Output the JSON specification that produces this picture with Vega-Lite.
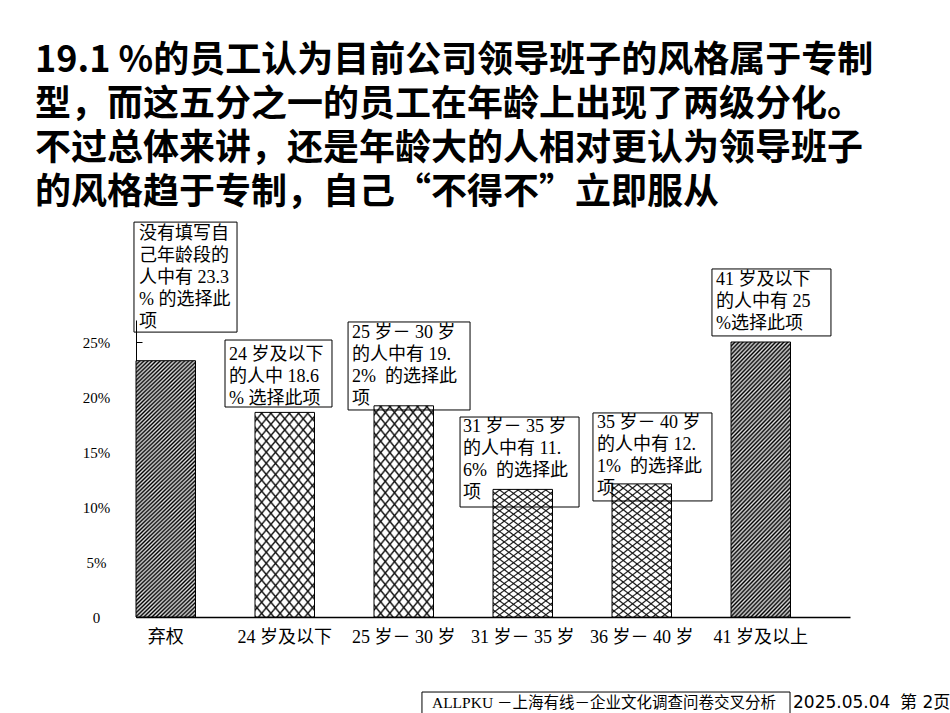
{
  "$schema": "https://vega.github.io/schema/vega-lite/v6.json",
  "width": 714,
  "height": 297,
  "autosize": "none",
  "padding": {"left": 136, "top": 320, "right": 100, "bottom": 96},
  "background": "#ffffff",
  "config": {"view": {"stroke": null}},
  "title": {
    "text": [
      "19.1 %的员工认为目前公司领导班子的风格属于专制",
      "型，而这五分之一的员工在年龄上出现了两级分化。",
      "不过总体来讲，还是年龄大的人相对更认为领导班子",
      "的风格趋于专制，自己“不得不”立即服从"
    ],
    "anchor": "start",
    "frame": "group",
    "font": "Noto Sans CJK SC",
    "fontSize": 36,
    "fontWeight": "bold",
    "lineHeight": 44,
    "color": "#000000",
    "dx": -101,
    "offset": 10
  },
  "datasets": {
    "bars": [
      {"group": "弃权", "pct": 23.3, "pattern": "hatch"},
      {"group": "24 岁及以下", "pct": 18.6, "pattern": "cross"},
      {"group": "25 岁－ 30 岁", "pct": 19.2, "pattern": "cross"},
      {"group": "31 岁－ 35 岁", "pct": 11.6, "pattern": "cross"},
      {"group": "36 岁－ 40 岁", "pct": 12.1, "pattern": "cross"},
      {"group": "41 岁及以上", "pct": 25, "pattern": "hatch"}
    ],
    "notes": [
      {"x0": -0.017, "x1": 0.849, "y0": 35.9, "y1": 25.9, "tx": 0.025, "ty": 35.6, "label": "没有填写自\n己年龄段的\n人中有 23.3\n% 的选择此\n项"},
      {"x0": 0.748, "x1": 1.647, "y0": 25.18, "y1": 19.09, "tx": 0.782, "ty": 24.68, "label": "24 岁及以下\n的人中 18.6\n% 选择此项"},
      {"x0": 1.782, "x1": 2.807, "y0": 26.82, "y1": 18.82, "tx": 1.815, "ty": 26.68, "label": "25 岁－ 30 岁\n的人中有 19.\n2%\u00a0\u00a0的选择此\n项"},
      {"x0": 2.723, "x1": 3.723, "y0": 18.18, "y1": 10.0, "tx": 2.748, "ty": 18.05, "label": "31 岁－ 35 岁\n的人中有 11.\n6%\u00a0\u00a0的选择此\n项"},
      {"x0": 3.84, "x1": 4.84, "y0": 18.55, "y1": 10.55, "tx": 3.874, "ty": 18.5, "label": "35 岁－ 40 岁\n的人中有 12.\n1%\u00a0\u00a0的选择此\n项"},
      {"x0": 4.84, "x1": 5.84, "y0": 31.64, "y1": 25.55, "tx": 4.874, "ty": 31.41, "label": "41 岁及以下\n的人中有 25\n%选择此项"}
    ],
    "footer": [
      {"x0": 2.403, "x1": 5.496, "y0": -6.82, "y1": -9.2, "tx": 2.487, "ty": -7.85, "label": "ALLPKU －上海有线－企业文化调查问卷交叉分析"}
    ],
    "stamp": [
      {"tx": 5.521, "ty": -7.85, "label": "2025.05.04"},
      {"tx": 6.42, "ty": -7.85, "label": "第 2页"}
    ]
  },
  "layer": [
    {
      "data": {"name": "bars"},
      "layer": [
        {
          "transform": [{"filter": "datum.pattern == 'hatch'"}],
          "mark": {
            "type": "bar",
            "stroke": "#000000",
            "strokeWidth": 1,
            "fill": {
              "gradient": "linear", "x1": 0, "y1": 0, "x2": 0.2627, "y2": 1.17,
              "stops": [
                {"offset":0,"color":"#000"},{"offset":0.00625,"color":"#ddd"},{"offset":0.0125,"color":"#000"},{"offset":0.01875,"color":"#ddd"},{"offset":0.025,"color":"#000"},{"offset":0.03125,"color":"#ddd"},{"offset":0.0375,"color":"#000"},{"offset":0.04375,"color":"#ddd"},
                {"offset":0.05,"color":"#000"},{"offset":0.05625,"color":"#ddd"},{"offset":0.0625,"color":"#000"},{"offset":0.06875,"color":"#ddd"},{"offset":0.075,"color":"#000"},{"offset":0.08125,"color":"#ddd"},{"offset":0.0875,"color":"#000"},{"offset":0.09375,"color":"#ddd"},
                {"offset":0.1,"color":"#000"},{"offset":0.10625,"color":"#ddd"},{"offset":0.1125,"color":"#000"},{"offset":0.11875,"color":"#ddd"},{"offset":0.125,"color":"#000"},{"offset":0.13125,"color":"#ddd"},{"offset":0.1375,"color":"#000"},{"offset":0.14375,"color":"#ddd"},
                {"offset":0.15,"color":"#000"},{"offset":0.15625,"color":"#ddd"},{"offset":0.1625,"color":"#000"},{"offset":0.16875,"color":"#ddd"},{"offset":0.175,"color":"#000"},{"offset":0.18125,"color":"#ddd"},{"offset":0.1875,"color":"#000"},{"offset":0.19375,"color":"#ddd"},
                {"offset":0.2,"color":"#000"},{"offset":0.20625,"color":"#ddd"},{"offset":0.2125,"color":"#000"},{"offset":0.21875,"color":"#ddd"},{"offset":0.225,"color":"#000"},{"offset":0.23125,"color":"#ddd"},{"offset":0.2375,"color":"#000"},{"offset":0.24375,"color":"#ddd"},
                {"offset":0.25,"color":"#000"},{"offset":0.25625,"color":"#ddd"},{"offset":0.2625,"color":"#000"},{"offset":0.26875,"color":"#ddd"},{"offset":0.275,"color":"#000"},{"offset":0.28125,"color":"#ddd"},{"offset":0.2875,"color":"#000"},{"offset":0.29375,"color":"#ddd"},
                {"offset":0.3,"color":"#000"},{"offset":0.30625,"color":"#ddd"},{"offset":0.3125,"color":"#000"},{"offset":0.31875,"color":"#ddd"},{"offset":0.325,"color":"#000"},{"offset":0.33125,"color":"#ddd"},{"offset":0.3375,"color":"#000"},{"offset":0.34375,"color":"#ddd"},
                {"offset":0.35,"color":"#000"},{"offset":0.35625,"color":"#ddd"},{"offset":0.3625,"color":"#000"},{"offset":0.36875,"color":"#ddd"},{"offset":0.375,"color":"#000"},{"offset":0.38125,"color":"#ddd"},{"offset":0.3875,"color":"#000"},{"offset":0.39375,"color":"#ddd"},
                {"offset":0.4,"color":"#000"},{"offset":0.40625,"color":"#ddd"},{"offset":0.4125,"color":"#000"},{"offset":0.41875,"color":"#ddd"},{"offset":0.425,"color":"#000"},{"offset":0.43125,"color":"#ddd"},{"offset":0.4375,"color":"#000"},{"offset":0.44375,"color":"#ddd"},
                {"offset":0.45,"color":"#000"},{"offset":0.45625,"color":"#ddd"},{"offset":0.4625,"color":"#000"},{"offset":0.46875,"color":"#ddd"},{"offset":0.475,"color":"#000"},{"offset":0.48125,"color":"#ddd"},{"offset":0.4875,"color":"#000"},{"offset":0.49375,"color":"#ddd"},
                {"offset":0.5,"color":"#000"},{"offset":0.50625,"color":"#ddd"},{"offset":0.5125,"color":"#000"},{"offset":0.51875,"color":"#ddd"},{"offset":0.525,"color":"#000"},{"offset":0.53125,"color":"#ddd"},{"offset":0.5375,"color":"#000"},{"offset":0.54375,"color":"#ddd"},
                {"offset":0.55,"color":"#000"},{"offset":0.55625,"color":"#ddd"},{"offset":0.5625,"color":"#000"},{"offset":0.56875,"color":"#ddd"},{"offset":0.575,"color":"#000"},{"offset":0.58125,"color":"#ddd"},{"offset":0.5875,"color":"#000"},{"offset":0.59375,"color":"#ddd"},
                {"offset":0.6,"color":"#000"},{"offset":0.60625,"color":"#ddd"},{"offset":0.6125,"color":"#000"},{"offset":0.61875,"color":"#ddd"},{"offset":0.625,"color":"#000"},{"offset":0.63125,"color":"#ddd"},{"offset":0.6375,"color":"#000"},{"offset":0.64375,"color":"#ddd"},
                {"offset":0.65,"color":"#000"},{"offset":0.65625,"color":"#ddd"},{"offset":0.6625,"color":"#000"},{"offset":0.66875,"color":"#ddd"},{"offset":0.675,"color":"#000"},{"offset":0.68125,"color":"#ddd"},{"offset":0.6875,"color":"#000"},{"offset":0.69375,"color":"#ddd"},
                {"offset":0.7,"color":"#000"},{"offset":0.70625,"color":"#ddd"},{"offset":0.7125,"color":"#000"},{"offset":0.71875,"color":"#ddd"},{"offset":0.725,"color":"#000"},{"offset":0.73125,"color":"#ddd"},{"offset":0.7375,"color":"#000"},{"offset":0.74375,"color":"#ddd"},
                {"offset":0.75,"color":"#000"},{"offset":0.75625,"color":"#ddd"},{"offset":0.7625,"color":"#000"},{"offset":0.76875,"color":"#ddd"},{"offset":0.775,"color":"#000"},{"offset":0.78125,"color":"#ddd"},{"offset":0.7875,"color":"#000"},{"offset":0.79375,"color":"#ddd"},
                {"offset":0.8,"color":"#000"},{"offset":0.80625,"color":"#ddd"},{"offset":0.8125,"color":"#000"},{"offset":0.81875,"color":"#ddd"},{"offset":0.825,"color":"#000"},{"offset":0.83125,"color":"#ddd"},{"offset":0.8375,"color":"#000"},{"offset":0.84375,"color":"#ddd"},
                {"offset":0.85,"color":"#000"},{"offset":0.85625,"color":"#ddd"},{"offset":0.8625,"color":"#000"},{"offset":0.86875,"color":"#ddd"},{"offset":0.875,"color":"#000"},{"offset":0.88125,"color":"#ddd"},{"offset":0.8875,"color":"#000"},{"offset":0.89375,"color":"#ddd"},
                {"offset":0.9,"color":"#000"},{"offset":0.90625,"color":"#ddd"},{"offset":0.9125,"color":"#000"},{"offset":0.91875,"color":"#ddd"},{"offset":0.925,"color":"#000"},{"offset":0.93125,"color":"#ddd"},{"offset":0.9375,"color":"#000"},{"offset":0.94375,"color":"#ddd"},
                {"offset":0.95,"color":"#000"},{"offset":0.95625,"color":"#ddd"},{"offset":0.9625,"color":"#000"},{"offset":0.96875,"color":"#ddd"},{"offset":0.975,"color":"#000"},{"offset":0.98125,"color":"#ddd"},{"offset":0.9875,"color":"#000"},{"offset":0.99375,"color":"#ddd"},
                {"offset":1,"color":"#000"}
              ]
            }
          },
          "encoding": {
            "x": {
              "field": "group",
              "type": "nominal",
              "sort": null,
              "scale": {
                "domain": ["弃权", "24 岁及以下", "25 岁－ 30 岁", "31 岁－ 35 岁", "36 岁－ 40 岁", "41 岁及以上"],
                "paddingInner": 0.5, "paddingOuter": 0.25, "align": 0
              },
              "axis": {
                "title": null,
                "ticks": false,
                "labelAngle": 0,
                "labelPadding": 11,
                "labelFont": "Liberation Serif, Noto Sans CJK SC",
                "labelFontSize": 18,
                "labelColor": "#000000",
                "domainColor": "#000000",
                "domainWidth": 1.5
              }
            },
            "y": {
              "field": "pct",
              "type": "quantitative",
              "scale": {"domain": [0, 27], "nice": false, "zero": false},
              "axis": {
                "title": null,
                "grid": false,
                "values": [0, 5, 10, 15, 20, 25],
                "labelExpr": "datum.value == 0 ? '0' : datum.value + '%'",
                "tickColor": "#000000",
                "tickSize": -6,
                "labelAlign": "center",
                "labelPadding": 46,
                "labelFont": "Liberation Serif",
                "labelFontSize": 15,
                "labelColor": "#000000",
                "domainColor": "#000000",
                "domainWidth": 1
              }
            }
          }
        },
        {
          "transform": [{"filter": "datum.pattern == 'cross'"}],
          "mark": {
            "type": "bar",
            "fill": {
              "gradient": "linear", "x1": 0, "y1": 0, "x2": 0.4235, "y2": 1.21,
              "stops": [
                {"offset":0,"color":"#fff"},{"offset":0.024,"color":"#fff"},{"offset":0.032,"color":"#111"},
                {"offset":0.04,"color":"#fff"},{"offset":0.064,"color":"#fff"},{"offset":0.072,"color":"#111"},
                {"offset":0.08,"color":"#fff"},{"offset":0.104,"color":"#fff"},{"offset":0.112,"color":"#111"},
                {"offset":0.12,"color":"#fff"},{"offset":0.144,"color":"#fff"},{"offset":0.152,"color":"#111"},
                {"offset":0.16,"color":"#fff"},{"offset":0.184,"color":"#fff"},{"offset":0.192,"color":"#111"},
                {"offset":0.2,"color":"#fff"},{"offset":0.224,"color":"#fff"},{"offset":0.232,"color":"#111"},
                {"offset":0.24,"color":"#fff"},{"offset":0.264,"color":"#fff"},{"offset":0.272,"color":"#111"},
                {"offset":0.28,"color":"#fff"},{"offset":0.304,"color":"#fff"},{"offset":0.312,"color":"#111"},
                {"offset":0.32,"color":"#fff"},{"offset":0.344,"color":"#fff"},{"offset":0.352,"color":"#111"},
                {"offset":0.36,"color":"#fff"},{"offset":0.384,"color":"#fff"},{"offset":0.392,"color":"#111"},
                {"offset":0.4,"color":"#fff"},{"offset":0.424,"color":"#fff"},{"offset":0.432,"color":"#111"},
                {"offset":0.44,"color":"#fff"},{"offset":0.464,"color":"#fff"},{"offset":0.472,"color":"#111"},
                {"offset":0.48,"color":"#fff"},{"offset":0.504,"color":"#fff"},{"offset":0.512,"color":"#111"},
                {"offset":0.52,"color":"#fff"},{"offset":0.544,"color":"#fff"},{"offset":0.552,"color":"#111"},
                {"offset":0.56,"color":"#fff"},{"offset":0.584,"color":"#fff"},{"offset":0.592,"color":"#111"},
                {"offset":0.6,"color":"#fff"},{"offset":0.624,"color":"#fff"},{"offset":0.632,"color":"#111"},
                {"offset":0.64,"color":"#fff"},{"offset":0.664,"color":"#fff"},{"offset":0.672,"color":"#111"},
                {"offset":0.68,"color":"#fff"},{"offset":0.704,"color":"#fff"},{"offset":0.712,"color":"#111"},
                {"offset":0.72,"color":"#fff"},{"offset":0.744,"color":"#fff"},{"offset":0.752,"color":"#111"},
                {"offset":0.76,"color":"#fff"},{"offset":0.784,"color":"#fff"},{"offset":0.792,"color":"#111"},
                {"offset":0.8,"color":"#fff"},{"offset":0.824,"color":"#fff"},{"offset":0.832,"color":"#111"},
                {"offset":0.84,"color":"#fff"},{"offset":0.864,"color":"#fff"},{"offset":0.872,"color":"#111"},
                {"offset":0.88,"color":"#fff"},{"offset":0.904,"color":"#fff"},{"offset":0.912,"color":"#111"},
                {"offset":0.92,"color":"#fff"},{"offset":0.944,"color":"#fff"},{"offset":0.952,"color":"#111"},
                {"offset":0.96,"color":"#fff"},{"offset":0.984,"color":"#fff"},{"offset":0.992,"color":"#111"},
                {"offset":1,"color":"#fff"}
              ]
            }
          },
          "encoding": {
            "x": {"field": "group", "type": "nominal", "sort": null},
            "y": {"field": "pct", "type": "quantitative"}
          }
        },
        {
          "transform": [{"filter": "datum.pattern == 'cross'"}],
          "mark": {
            "type": "bar",
            "stroke": "#000000",
            "strokeWidth": 1,
            "fill": {
              "gradient": "linear", "x1": 1, "y1": 0, "x2": 0.5765, "y2": 1.21,
              "stops": [
                {"offset":0,"color":"rgba(0,0,0,0)"},{"offset":0.024,"color":"rgba(0,0,0,0)"},{"offset":0.032,"color":"#111"},
                {"offset":0.04,"color":"rgba(0,0,0,0)"},{"offset":0.064,"color":"rgba(0,0,0,0)"},{"offset":0.072,"color":"#111"},
                {"offset":0.08,"color":"rgba(0,0,0,0)"},{"offset":0.104,"color":"rgba(0,0,0,0)"},{"offset":0.112,"color":"#111"},
                {"offset":0.12,"color":"rgba(0,0,0,0)"},{"offset":0.144,"color":"rgba(0,0,0,0)"},{"offset":0.152,"color":"#111"},
                {"offset":0.16,"color":"rgba(0,0,0,0)"},{"offset":0.184,"color":"rgba(0,0,0,0)"},{"offset":0.192,"color":"#111"},
                {"offset":0.2,"color":"rgba(0,0,0,0)"},{"offset":0.224,"color":"rgba(0,0,0,0)"},{"offset":0.232,"color":"#111"},
                {"offset":0.24,"color":"rgba(0,0,0,0)"},{"offset":0.264,"color":"rgba(0,0,0,0)"},{"offset":0.272,"color":"#111"},
                {"offset":0.28,"color":"rgba(0,0,0,0)"},{"offset":0.304,"color":"rgba(0,0,0,0)"},{"offset":0.312,"color":"#111"},
                {"offset":0.32,"color":"rgba(0,0,0,0)"},{"offset":0.344,"color":"rgba(0,0,0,0)"},{"offset":0.352,"color":"#111"},
                {"offset":0.36,"color":"rgba(0,0,0,0)"},{"offset":0.384,"color":"rgba(0,0,0,0)"},{"offset":0.392,"color":"#111"},
                {"offset":0.4,"color":"rgba(0,0,0,0)"},{"offset":0.424,"color":"rgba(0,0,0,0)"},{"offset":0.432,"color":"#111"},
                {"offset":0.44,"color":"rgba(0,0,0,0)"},{"offset":0.464,"color":"rgba(0,0,0,0)"},{"offset":0.472,"color":"#111"},
                {"offset":0.48,"color":"rgba(0,0,0,0)"},{"offset":0.504,"color":"rgba(0,0,0,0)"},{"offset":0.512,"color":"#111"},
                {"offset":0.52,"color":"rgba(0,0,0,0)"},{"offset":0.544,"color":"rgba(0,0,0,0)"},{"offset":0.552,"color":"#111"},
                {"offset":0.56,"color":"rgba(0,0,0,0)"},{"offset":0.584,"color":"rgba(0,0,0,0)"},{"offset":0.592,"color":"#111"},
                {"offset":0.6,"color":"rgba(0,0,0,0)"},{"offset":0.624,"color":"rgba(0,0,0,0)"},{"offset":0.632,"color":"#111"},
                {"offset":0.64,"color":"rgba(0,0,0,0)"},{"offset":0.664,"color":"rgba(0,0,0,0)"},{"offset":0.672,"color":"#111"},
                {"offset":0.68,"color":"rgba(0,0,0,0)"},{"offset":0.704,"color":"rgba(0,0,0,0)"},{"offset":0.712,"color":"#111"},
                {"offset":0.72,"color":"rgba(0,0,0,0)"},{"offset":0.744,"color":"rgba(0,0,0,0)"},{"offset":0.752,"color":"#111"},
                {"offset":0.76,"color":"rgba(0,0,0,0)"},{"offset":0.784,"color":"rgba(0,0,0,0)"},{"offset":0.792,"color":"#111"},
                {"offset":0.8,"color":"rgba(0,0,0,0)"},{"offset":0.824,"color":"rgba(0,0,0,0)"},{"offset":0.832,"color":"#111"},
                {"offset":0.84,"color":"rgba(0,0,0,0)"},{"offset":0.864,"color":"rgba(0,0,0,0)"},{"offset":0.872,"color":"#111"},
                {"offset":0.88,"color":"rgba(0,0,0,0)"},{"offset":0.904,"color":"rgba(0,0,0,0)"},{"offset":0.912,"color":"#111"},
                {"offset":0.92,"color":"rgba(0,0,0,0)"},{"offset":0.944,"color":"rgba(0,0,0,0)"},{"offset":0.952,"color":"#111"},
                {"offset":0.96,"color":"rgba(0,0,0,0)"},{"offset":0.984,"color":"rgba(0,0,0,0)"},{"offset":0.992,"color":"#111"},
                {"offset":1,"color":"rgba(0,0,0,0)"}
              ]
            }
          },
          "encoding": {
            "x": {"field": "group", "type": "nominal", "sort": null},
            "y": {"field": "pct", "type": "quantitative"}
          }
        }
      ]
    },
    {
      "layer": [
        {
          "data": {"name": "notes"},
          "mark": {"type": "rect", "fill": "transparent", "stroke": "#000000", "strokeWidth": 1},
          "encoding": {
            "x": {"field": "x0", "type": "quantitative", "scale": {"domain": [0, 6], "nice": false, "zero": false}, "axis": null},
            "x2": {"field": "x1"},
            "y": {"field": "y0", "type": "quantitative", "axis": null},
            "y2": {"field": "y1"}
          }
        },
        {
          "data": {"name": "notes"},
          "mark": {"type": "text", "align": "left", "baseline": "top", "lineBreak": "\n", "font": "Liberation Serif, Noto Sans CJK SC", "fontSize": 18, "lineHeight": 22, "color": "#000000"},
          "encoding": {
            "x": {"field": "tx", "type": "quantitative", "scale": {"domain": [0, 6], "nice": false, "zero": false}, "axis": null},
            "y": {"field": "ty", "type": "quantitative", "axis": null},
            "text": {"field": "label"}
          }
        },
        {
          "data": {"name": "footer"},
          "mark": {"type": "rect", "fill": "transparent", "stroke": "#000000", "strokeWidth": 1},
          "encoding": {
            "x": {"field": "x0", "type": "quantitative", "scale": {"domain": [0, 6], "nice": false, "zero": false}, "axis": null},
            "x2": {"field": "x1"},
            "y": {"field": "y0", "type": "quantitative", "axis": null},
            "y2": {"field": "y1"}
          }
        },
        {
          "data": {"name": "footer"},
          "mark": {"type": "text", "align": "left", "baseline": "middle", "font": "Liberation Serif, Noto Sans CJK SC", "fontSize": 15.5, "color": "#000000"},
          "encoding": {
            "x": {"field": "tx", "type": "quantitative", "scale": {"domain": [0, 6], "nice": false, "zero": false}, "axis": null},
            "y": {"field": "ty", "type": "quantitative", "axis": null},
            "text": {"field": "label"}
          }
        },
        {
          "data": {"name": "stamp"},
          "mark": {"type": "text", "align": "left", "baseline": "middle", "font": "DejaVu Sans, Noto Sans CJK SC", "fontSize": 17, "color": "#000000"},
          "encoding": {
            "x": {"field": "tx", "type": "quantitative", "scale": {"domain": [0, 6], "nice": false, "zero": false}, "axis": null},
            "y": {"field": "ty", "type": "quantitative", "axis": null},
            "text": {"field": "label"}
          }
        }
      ]
    }
  ],
  "resolve": {"scale": {"x": "independent"}, "axis": {"y": "independent"}}
}
